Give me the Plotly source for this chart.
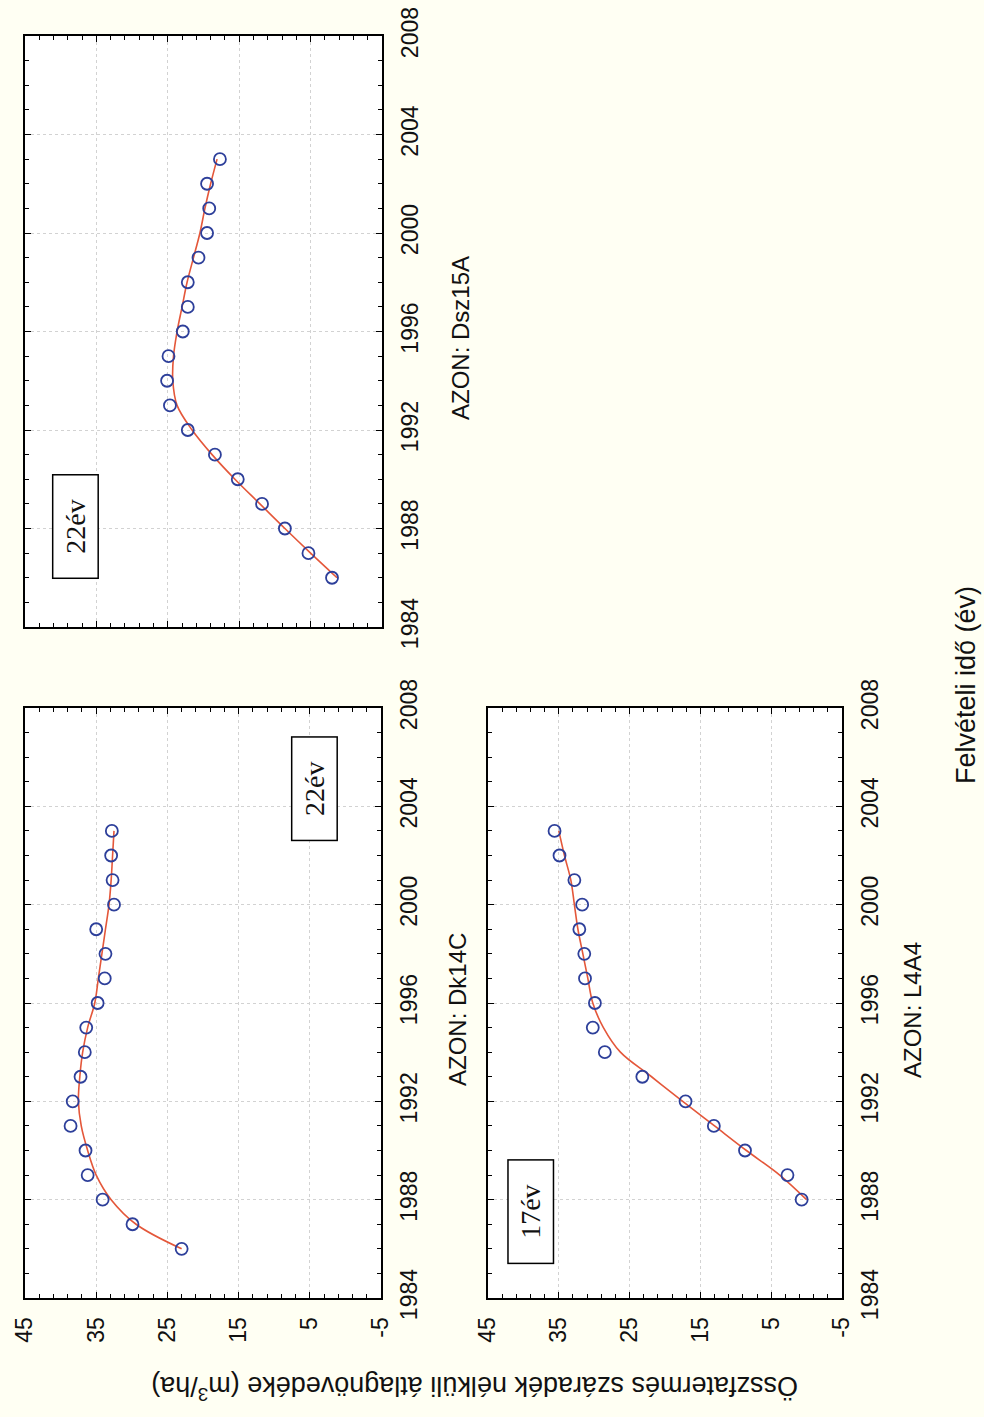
import plotly.graph_objects as go

years_dk = list(range(1986, 2004))
vals_dk = [23.0, 29.9, 34.1, 36.2, 36.5, 38.6, 38.3, 37.2, 36.6, 36.4, 34.8, 33.8, 33.7, 35.0, 32.5, 32.7, 32.9, 32.8]
fit_dk = [23.0, 29.4, 32.9, 35.0, 36.2, 37.1, 37.5, 37.3, 36.9, 36.2, 35.2, 34.7, 34.2, 33.7, 33.2, 32.9, 32.7, 32.5]

years_l4 = list(range(1988, 2004))
vals_l4 = [0.7, 2.7, 8.7, 13.1, 17.1, 23.2, 28.5, 30.2, 29.9, 31.3, 31.4, 32.1, 31.7, 32.8, 34.9, 35.6]
fit_l4 = [0.0, 3.8, 8.5, 13.0, 17.5, 21.9, 26.3, 28.7, 30.2, 30.9, 31.6, 32.3, 32.8, 33.3, 34.2, 35.0]

years_dsz = list(range(1986, 2004))
vals_dsz = [2.0, 5.3, 8.6, 11.8, 15.2, 18.4, 22.2, 24.7, 25.1, 24.9, 22.9, 22.2, 22.2, 20.7, 19.5, 19.2, 19.5, 17.7]
fit_dsz = [1.3, 5.0, 8.6, 12.1, 15.6, 18.8, 21.6, 23.7, 24.3, 24.2, 23.7, 23.0, 22.3, 21.4, 20.5, 19.8, 19.0, 18.1]

value_ticks = [45, 35, 25, 15, 5, -5]
year_ticks = [1984, 1988, 1992, 1996, 2000, 2004, 2008]

W, H = 984, 1417
BG = "#fffff3"
MARK = "#2d3f9a"
LINE = "#e4573a"
TICKFONT = dict(family="Liberation Sans, Arial, sans-serif", size=23, color="#111")

fig = go.Figure()

panels = [
    ("x", "y", years_dk, vals_dk, fit_dk),
    ("x2", "y2", years_l4, vals_l4, fit_l4),
    ("x3", "y3", years_dsz, vals_dsz, fit_dsz),
]
for xa, ya, yrs, vals, fit in panels:
    fig.add_trace(go.Scatter(x=fit, y=yrs, mode="lines", line=dict(color=LINE, width=1.6, shape="spline"),
                             xaxis=xa, yaxis=ya, showlegend=False, hoverinfo="skip"))
    fig.add_trace(go.Scatter(x=vals, y=yrs, mode="markers",
                             marker=dict(symbol="circle-open", size=12, color=MARK, line=dict(width=1.8, color=MARK)),
                             xaxis=xa, yaxis=ya, showlegend=False))

def px_x(p):
    return p / W

def px_y(p):
    return 1 - p / H

doms = {
    "": ([px_x(25), px_x(381)], [px_y(1298), px_y(708)], True),
    "2": ([px_x(488), px_x(842)], [px_y(1298), px_y(708)], True),
    "3": ([px_x(25), px_x(382)], [px_y(627), px_y(36)], False),
}

layout = dict(width=W, height=H, margin=dict(l=0, r=0, t=0, b=0),
              paper_bgcolor=BG, plot_bgcolor="white")
for k, (dx, dy, show) in doms.items():
    layout["xaxis" + k] = dict(
        domain=dx, anchor="y" + k, range=[45, -5], tickvals=value_ticks,
        ticktext=[str(v) for v in value_ticks], tickangle=-90,
        showticklabels=show, tickfont=TICKFONT, ticks="inside", ticklen=6,
        tickcolor="black", showline=True, linecolor="black", linewidth=2, mirror="ticks",
        showgrid=True, gridcolor="#d2d2d2", griddash="dot", gridwidth=1, zeroline=False,
        minor=dict(dtick=2, tick0=-5, ticks="inside", ticklen=4, tickcolor="black", showgrid=False),
        ticklabelstandoff=8, automargin=False,
    )
    layout["yaxis" + k] = dict(
        domain=dy, anchor="x" + k, range=[1984, 2008], tickvals=year_ticks,
        ticktext=[str(v) for v in year_ticks], tickangle=-90, side="right",
        tickfont=TICKFONT, ticks="inside", ticklen=6, tickcolor="black",
        showline=True, linecolor="black", linewidth=2, mirror="ticks",
        showgrid=True, gridcolor="#d2d2d2", griddash="dot", gridwidth=1, zeroline=False,
        minor=dict(dtick=1, tick0=1984, ticks="inside", ticklen=4, tickcolor="black", showgrid=False),
        ticklabelstandoff=6, automargin=False,
    )
fig.update_layout(**layout)

SANS = dict(family="Liberation Sans, Arial, sans-serif", size=24, color="#111")
TITLE = dict(family="Liberation Sans, Arial, sans-serif", size=27, color="#111")
SERIF = dict(family="Liberation Serif, Times New Roman, serif", size=28, color="#111")

common = dict(xanchor="center", yanchor="middle", showarrow=False)
box = dict(bordercolor="black", borderwidth=1.5, borderpad=2, bgcolor="white", width=98, height=40)

annos = [
    dict(text="AZON: Dk14C", x=px_x(457), y=px_y(1010), xref="paper", yref="paper", textangle=-90, font=SANS, **common),
    dict(text="AZON: L4A4", x=px_x(912), y=px_y(1010), xref="paper", yref="paper", textangle=-90, font=SANS, **common),
    dict(text="AZON: Dsz15A", x=px_x(460), y=px_y(338), xref="paper", yref="paper", textangle=-90, font=SANS, **common),
    dict(text="Felvételi idő (év)", x=px_x(966), y=px_y(685), xref="paper", yref="paper", textangle=-90, font=TITLE, **common),
    dict(text="Összfatermés száradék nélküli átlagnövedéke (m<sup>3</sup>/ha)", x=px_x(475), y=px_y(1388),
         xref="paper", yref="paper", textangle=180, font=TITLE, **common),
    dict(text="22év", x=4.4, y=2004.7, xref="x", yref="y", textangle=-90, font=SERIF, **common, **box),
    dict(text="17év", x=38.9, y=1987.5, xref="x2", yref="y2", textangle=-90, font=SERIF, **common, **box),
    dict(text="22év", x=38.0, y=1988.1, xref="x3", yref="y3", textangle=-90, font=SERIF, **common, **box),
]
fig.update_layout(annotations=annos)

fig.write_html("out.html")
